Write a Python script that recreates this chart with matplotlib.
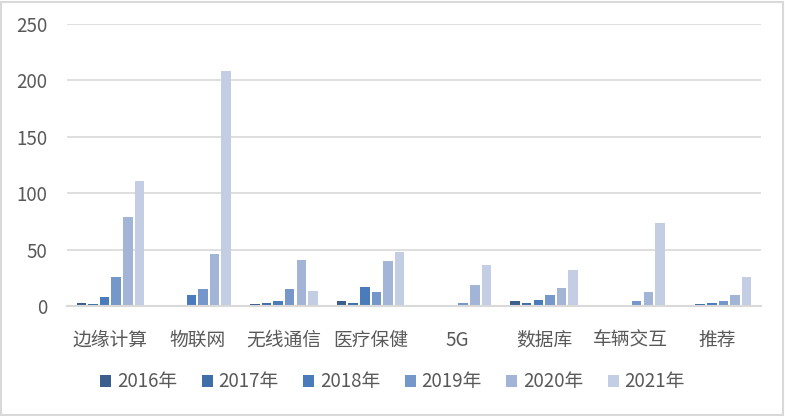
import matplotlib
matplotlib.use("Agg")
import matplotlib.pyplot as plt
import matplotlib.patches as mpatches
import numpy as np

plt.rcParams['font.family'] = ['Noto Sans CJK SC', 'DejaVu Sans']

categories = ["边缘计算", "物联网", "无线通信", "医疗保健", "5G", "数据库", "车辆交互", "推荐"]
years = ["2016年", "2017年", "2018年", "2019年", "2020年", "2021年"]

y2016 = [3, 0, 2, 4, 0, 4, 0, 0]
y2017 = [2, 0, 3, 3, 0, 3, 0, 2]
y2018 = [8, 10, 4, 17, 0, 5, 0, 3]
y2019 = [26, 15, 15, 12, 3, 10, 4, 4]
y2020 = [79, 46, 41, 40, 19, 16, 12, 10]
y2021 = [111, 208, 13, 48, 36, 32, 74, 26]
series = [y2016, y2017, y2018, y2019, y2020, y2021]

colors = ["#3b5e8f", "#3f6fa9", "#4a7cbc", "#7597c9", "#a2b5d6", "#c3cde3"]
grey = "#d9d9d9"
text_col = "#595959"

fig = plt.figure(figsize=(7.85, 4.16), dpi=100)
ax = fig.add_axes([67 / 785, (416 - 306) / 416, 694 / 785, 282 / 416])

x = np.arange(len(categories))
slot = 0.1337
for j, vals in enumerate(series):
    ax.bar(x + (j - 2.5) * slot, vals, width=0.11, color=colors[j],
           label=years[j], zorder=3)

ax.set_xlim(-0.5, len(categories) - 0.5)
ax.set_ylim(0, 250)
ax.set_yticks(np.arange(0, 251, 50))
ax.set_xticks(x)
ax.set_xticklabels(categories)
ax.tick_params(axis="both", length=0, labelsize=13.5, colors=text_col)
ax.tick_params(axis="x", pad=17)
ax.tick_params(axis="y", pad=14)
for lbl in ax.get_yticklabels():
    lbl.set_color(text_col)

ax.grid(axis="y", color=grey, linewidth=1.2, zorder=0)
for s in ["top", "right", "left"]:
    ax.spines[s].set_visible(False)
ax.spines["bottom"].set_color(grey)
ax.spines["bottom"].set_linewidth(1.5)
ax.spines["bottom"].set_zorder(4)

leg = fig.legend(loc="center", bbox_to_anchor=(0.5, (416 - 382) / 416), ncol=6,
                 frameon=False, fontsize=13.5, handlelength=0.6, handleheight=0.6,
                 handletextpad=0.3, columnspacing=1.3)
for t in leg.get_texts():
    t.set_color(text_col)

fig.patches.append(mpatches.Rectangle((0.001, 0.002), 0.996, 0.994, transform=fig.transFigure,
                                      fill=False, edgecolor=grey, linewidth=1.5))

fig.savefig("out.png", dpi=100)
